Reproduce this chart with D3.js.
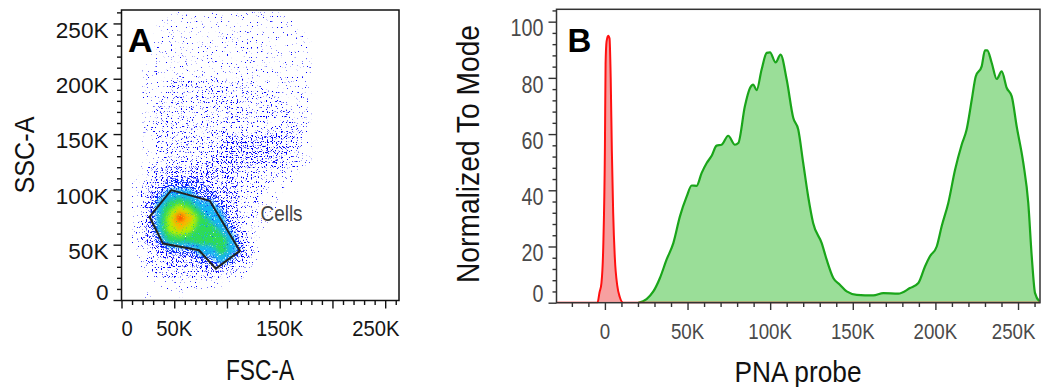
<!DOCTYPE html>
<html>
<head>
<meta charset="utf-8">
<script src="https://cdn.jsdelivr.net/npm/d3@7"></script>
<style>
  body { margin: 0; background: #fff; }
  svg { display: block; }
</style>
</head>
<body>
<div id="chart"></div>
<script>
// ---------- data ----------
// panel A: density level (0-9) per 10K x 10K bin, FSC-A across, SSC-A rows from 260K down to 0
var scatterBin = 10000;
var scatterRows = [
  "00001111111111110000000000",
  "00011111111111111000000000",
  "00011111111111111100000000",
  "00011111111111111100000000",
  "00111111111111111100000000",
  "00111111111111111100000000",
  "00112222222221111100000000",
  "00112222222222211100000000",
  "00122222222222221100000000",
  "00122222222222221100000000",
  "00122222222222222100000000",
  "00122222223333332100000000",
  "00122222233333332100000000",
  "00122222333333322100000000",
  "00233333333222211000000000",
  "01234444333222110000000000",
  "01345554433221100000000000",
  "01356765543221100000000000",
  "01357986553221000000000000",
  "01357876654211000000000000",
  "01346666665310000000000000",
  "01234445565420000000000000",
  "00223334454210000000000000",
  "00122222322100000000000000",
  "00011111110000000000000000",
  "00100100000000000000000000"
];
// gate "Cells" (FSC-A, SSC-A in K)
var gateFSC = [26.6, 47.2, 83.7, 112.2, 89.4, 73.5, 39.3];
var gateSSC = [75.2, 99.4, 89.7, 44.4, 28.4, 45.0, 51.0];

// panel B: PNA probe histogram (K) vs normalized to mode (%)
var pnaX = [20.2, 25.2, 29.3, 33.3, 37.3, 41.4, 45.4, 49.5, 52.5, 55.5, 58.5, 61.6, 64.6, 67.6, 70.6,
  74.6, 78.7, 80.7, 84.7, 87.8, 89.8, 91.8, 94.8, 97.9, 99.9, 103.3, 106.3, 110, 114, 117, 120, 123,
  126, 131.2, 134.2, 138.2, 142.2, 146.3, 152.4, 162.4, 168.5, 177.5, 184.6, 189.7, 193.7, 196.7,
  200.8, 203.8, 207.8, 211.9, 215.9, 218.9, 222, 224.4, 228, 230, 231.4, 234.1, 237.1, 240.1, 243.2,
  246.2, 249.2, 253.2, 256.2, 258.3, 260.3, 262.9];
var pnaY = [0, 1.3, 4.0, 8.8, 15.3, 21.2, 30.7, 37.8, 41.7, 41.6, 46.1, 49.7, 52.3, 55.9, 56.2,
  59.4, 56.2, 56.8, 69.9, 76.4, 77.6, 75.6, 82.9, 88.9, 89.1, 85.5, 88.3, 79.4, 65.7, 61.6, 49.7, 37.8,
  28.4, 21.2, 15.3, 8.8, 6.4, 4.0, 2.8, 2.6, 3.4, 3.2, 5.2, 7.0, 12.9, 16.5,
  20.0, 27.2, 35.5, 47.3, 56.2, 61.6, 72.2, 80.5, 84.1, 89.8, 89.8, 85.3, 79.6, 82.3, 76.4,
  73.4, 62.7, 49.7, 35.5, 16.5, 3.4, 0.5];
// unstained control
var controlX = [-29.3, -4.5, -3.3, -2.1, -1, 0, 0.4, 1, 2, 2.8, 3.5, 4.2, 5, 6, 7.5, 9, 11, 263.3];
var controlY = [0, 0, 3.6, 7, 20, 55, 85, 93, 95, 94, 80, 54, 32, 16, 6, 2, 0, 0];

// ticks
var scatterTicks = [0, 50000, 100000, 150000, 200000, 250000];
var fscLabels = ["0", "50K", "", "150K", "", "250K"];
var sscLabels = ["0", "50K", "100K", "150K", "200K", "250K"];
var pnaTicks = [0, 50000, 100000, 150000, 200000, 250000];
var pnaLabels = ["0", "50K", "100K", "150K", "200K", "250K"];
var modeTicks = [0, 20, 40, 60, 80, 100];
var modeLabels = ["0", "20", "40", "60", "80", "100"];

// ---------- drawing ----------
var width = 1042, height = 387;
var svg = d3.select('#chart').append('svg')
  .attr('width', width)
  .attr('height', height)
  .style('font-family', '"Liberation Sans", Arial, sans-serif');
var defs = svg.append('defs');

function squeeze(sel, k) {
  sel.each(function() {
    var w = this.getComputedTextLength();
    d3.select(this).attr('textLength', w * k).attr('lengthAdjust', 'spacingAndGlyphs');
  });
}

// keep a centred label inside [lo, hi]
function clampX(sel, lo, hi) {
  sel.each(function() {
    var t = d3.select(this), w = this.getComputedTextLength();
    if (t.attr('textLength')) w = +t.attr('textLength');
    var cx = +t.attr('x');
    cx = Math.max(lo + w / 2, Math.min(hi - w / 2, cx));
    t.attr('x', cx);
  });
}

function minorTicks(lo, hi, step, major) {
  return d3.range(lo, hi + 1, step).filter(function(v) { return major.indexOf(v) < 0; });
}

// ===== panel A =====
var xA = d3.scaleLinear().domain([0, 262144]).range([121.5, 398]);
var yA = d3.scaleLinear().domain([0, 262144]).range([300, 10]);

defs.append('clipPath').attr('id', 'clipA')
  .append('rect').attr('x', 121.5).attr('y', 10).attr('width', 277.5).attr('height', 290.5);

// sparse levels drawn as noise-masked dots
var speckle = [
  { seed: 3, cut: 0.675, color: '#0000ff' },
  { seed: 11, cut: 0.64, color: '#0000ff' },
  { seed: 23, cut: 0.60, color: '#0606fa' },
  { seed: 37, cut: 0.52, color: '#1838ff' }
];
speckle.forEach(function(s, i) {
  var f = defs.append('filter').attr('id', 'speck' + i)
    .attr('filterUnits', 'userSpaceOnUse')
    .attr('x', 100).attr('y', 0).attr('width', 320).attr('height', 320);
  f.append('feTurbulence').attr('type', 'fractalNoise').attr('baseFrequency', 0.8)
    .attr('numOctaves', 1).attr('seed', s.seed).attr('result', 'noise');
  f.append('feComponentTransfer').attr('in', 'noise').attr('result', 'dots')
    .append('feFuncA').attr('type', 'linear').attr('slope', 16).attr('intercept', -16 * s.cut);
  f.append('feComposite').attr('in', 'SourceGraphic').attr('in2', 'dots').attr('operator', 'in');
});

// dense levels: blurred, with a little grain
var denseColors = ['#12b6f2', '#2fdc55', '#b2f000', '#ffb400', '#ff2a00'];
denseColors.forEach(function(c, i) {
  var f = defs.append('filter').attr('id', 'soft' + i)
    .attr('filterUnits', 'userSpaceOnUse')
    .attr('x', 100).attr('y', 0).attr('width', 320).attr('height', 320);
  f.append('feGaussianBlur').attr('in', 'SourceGraphic').attr('stdDeviation', 2.2).attr('result', 'blur');
  f.append('feTurbulence').attr('type', 'fractalNoise').attr('baseFrequency', 0.9)
    .attr('numOctaves', 1).attr('seed', 50 + i * 7).attr('result', 'noise');
  f.append('feComponentTransfer').attr('in', 'noise').attr('result', 'grain')
    .append('feFuncA').attr('type', 'linear').attr('slope', 7).attr('intercept', -7 * 0.27);
  f.append('feComposite').attr('in', 'blur').attr('in2', 'grain').attr('operator', 'in');
});

var nCols = scatterRows[0].length, nRows = scatterRows.length;
var grid = [];
scatterRows.forEach(function(row) {
  row.split('').forEach(function(ch) { grid.push(+ch); });
});
var levels = d3.contours().size([nCols, nRows]).thresholds(d3.range(0.5, 9, 1))(grid);

var gridPath = d3.geoPath(d3.geoTransform({
  point: function(gx, gy) {
    this.stream.point(xA(gx * scatterBin), yA((nRows - gy) * scatterBin));
  }
}));

var dots = svg.append('g').attr('clip-path', 'url(#clipA)');
levels.forEach(function(c, i) {
  if (i < 4) {
    dots.append('path').attr('d', gridPath(c))
      .attr('fill', speckle[i].color)
      .attr('filter', 'url(#speck' + i + ')');
  } else {
    dots.append('path').attr('d', gridPath(c))
      .attr('fill', denseColors[i - 4])
      .attr('filter', 'url(#soft' + (i - 4) + ')');
  }
});

// gate
var gate = gateFSC.map(function(v, i) { return [v * 1000, gateSSC[i] * 1000]; });
svg.append('path')
  .attr('d', d3.line().x(function(d) { return xA(d[0]); }).y(function(d) { return yA(d[1]); })
    .curve(d3.curveLinearClosed)(gate))
  .attr('fill', 'none').attr('stroke', '#222').attr('stroke-width', 2);

svg.append('text').attr('x', 260.5).attr('y', 221).text('Cells')
  .attr('font-size', 22).attr('fill', '#444').call(squeeze, 0.86);

// frame A
svg.append('rect').attr('x', 121.5).attr('y', 10).attr('width', 277.5).attr('height', 290.5)
  .attr('fill', 'none').attr('stroke', '#111').attr('stroke-width', 1.5);

var axA = svg.append('g').attr('transform', 'translate(0,300.5)');
axA.append('g').call(d3.axisBottom(xA).tickValues(scatterTicks).tickSize(8).tickFormat(''));
axA.append('g').call(d3.axisBottom(xA).tickValues(minorTicks(10000, 260000, 10000, scatterTicks))
  .tickSize(4.5).tickFormat(''));
var ayA = svg.append('g').attr('transform', 'translate(121.5,0)');
ayA.append('g').call(d3.axisLeft(yA).tickValues(scatterTicks).tickSize(8).tickFormat(''));
ayA.append('g').call(d3.axisLeft(yA).tickValues(minorTicks(10000, 260000, 10000, scatterTicks))
  .tickSize(4.5).tickFormat(''));
svg.selectAll('.domain').remove();
axA.selectAll('line').attr('stroke', '#111').attr('stroke-width', 1.4);
ayA.selectAll('line').attr('stroke', '#111').attr('stroke-width', 1.4);

svg.append('g').selectAll('text')
  .data(scatterTicks.filter(function(d, i) { return fscLabels[i]; }))
  .enter().append('text')
  .attr('x', function(d) { return xA(d); })
  .attr('y', 335.5)
  .attr('text-anchor', 'middle')
  .attr('font-size', 22).attr('fill', '#151515')
  .text(function(d) { return fscLabels[scatterTicks.indexOf(d)]; })
  .call(squeeze, 0.92)
  .call(clampX, 121.5, 399.5);

svg.append('g').selectAll('text')
  .data(scatterTicks)
  .enter().append('text')
  .attr('x', 108.5)
  .attr('y', function(d) { return Math.min(yA(d) + 14.3, 300.3); })
  .attr('text-anchor', 'end')
  .attr('font-size', 21.5).attr('fill', '#151515')
  .text(function(d, i) { return sscLabels[i]; })
  .call(squeeze, 1.05);

svg.append('text').attr('x', 260).attr('y', 379.5).attr('text-anchor', 'middle')
  .attr('font-size', 30).attr('fill', '#111').text('FSC-A')
  .attr('textLength', 68).attr('lengthAdjust', 'spacingAndGlyphs');
svg.append('text').attr('transform', 'translate(33.5,155) rotate(-90)').attr('text-anchor', 'middle')
  .attr('font-size', 28).attr('fill', '#111').text('SSC-A')
  .attr('textLength', 77).attr('lengthAdjust', 'spacingAndGlyphs');

svg.append('text').attr('x', 128).attr('y', 52).text('A')
  .attr('font-size', 34).attr('font-weight', 'bold').attr('fill', '#000');

// ===== panel B =====
var xB = d3.scaleLinear().domain([-29300, 263300]).range([556.5, 1040]);
var yB = d3.scaleLinear().domain([0, 104.4]).range([302.7, 9.3]);

defs.append('clipPath').attr('id', 'clipB')
  .append('rect').attr('x', 556.5).attr('y', 9.3).attr('width', 483.5).attr('height', 294);

var histArea = d3.area()
  .x(function(d) { return xB(d[0] * 1000); })
  .y0(yB(0))
  .y1(function(d) { return yB(d[1]); })
  .curve(d3.curveMonotoneX);

var pna = pnaX.map(function(v, i) { return [v, pnaY[i]]; });
var control = controlX.map(function(v, i) { return [v, controlY[i]]; });

var hist = svg.append('g').attr('clip-path', 'url(#clipB)');
hist.append('path').attr('d', histArea(pna))
  .attr('fill', '#9ade98').attr('stroke', 'none');
hist.append('path').attr('d', histArea.lineY1()(pna))
  .attr('fill', 'none').attr('stroke', '#1aa51a').attr('stroke-width', 2.2);
hist.append('path').attr('d', histArea(control))
  .attr('fill', '#f7a0a0').attr('stroke', 'none');
hist.append('path').attr('d', histArea.lineY1()(control))
  .attr('fill', 'none').attr('stroke', '#ff1010').attr('stroke-width', 2);

// frame B
svg.append('rect').attr('x', 556.5).attr('y', 9.3).attr('width', 483.5).attr('height', 293.4)
  .attr('fill', 'none').attr('stroke', '#333').attr('stroke-width', 1.5);

var axB = svg.append('g').attr('transform', 'translate(0,303)');
axB.append('g').call(d3.axisBottom(xB).tickValues(pnaTicks).tickSize(7).tickFormat(''));
axB.append('g').call(d3.axisBottom(xB).tickValues(minorTicks(-20000, 260000, 10000, pnaTicks))
  .tickSize(4).tickFormat(''));
var ayB = svg.append('g').attr('transform', 'translate(556.5,0)');
ayB.append('g').call(d3.axisLeft(yB).tickValues(modeTicks).tickSize(8).tickFormat(''));
ayB.append('g').call(d3.axisLeft(yB).tickValues(minorTicks(4, 104, 4, modeTicks))
  .tickSize(4).tickFormat(''));
svg.selectAll('.domain').remove();
axB.selectAll('line').attr('stroke', '#333').attr('stroke-width', 1.4);
ayB.selectAll('line').attr('stroke', '#333').attr('stroke-width', 1.4);

svg.append('g').selectAll('text')
  .data(pnaTicks)
  .enter().append('text')
  .attr('x', function(d) { return xB(d); })
  .attr('y', 338.5)
  .attr('text-anchor', 'middle')
  .attr('font-size', 21.5).attr('fill', '#4a4a4a')
  .text(function(d, i) { return pnaLabels[i]; })
  .call(squeeze, 0.87)
  .call(clampX, 556.5, 1035.5);

svg.append('g').selectAll('text')
  .data(modeTicks)
  .enter().append('text')
  .attr('x', 543.5)
  .attr('y', function(d) { return Math.min(yB(d) + 14.8, 302); })
  .attr('text-anchor', 'end')
  .attr('font-size', 23.5).attr('fill', '#4a4a4a')
  .text(function(d, i) { return modeLabels[i]; })
  .call(squeeze, 0.84);

svg.append('text').attr('x', 798).attr('y', 382).attr('text-anchor', 'middle')
  .attr('font-size', 30).attr('fill', '#111').text('PNA probe')
  .attr('textLength', 127).attr('lengthAdjust', 'spacingAndGlyphs');
svg.append('text').attr('transform', 'translate(478.5,154) rotate(-90)').attr('text-anchor', 'middle')
  .attr('font-size', 31).attr('fill', '#111').text('Normalized To Mode')
  .attr('textLength', 258).attr('lengthAdjust', 'spacingAndGlyphs');

svg.append('text').attr('x', 567.5).attr('y', 52).text('B')
  .attr('font-size', 33).attr('font-weight', 'bold').attr('fill', '#000');
</script>
</body>
</html>
